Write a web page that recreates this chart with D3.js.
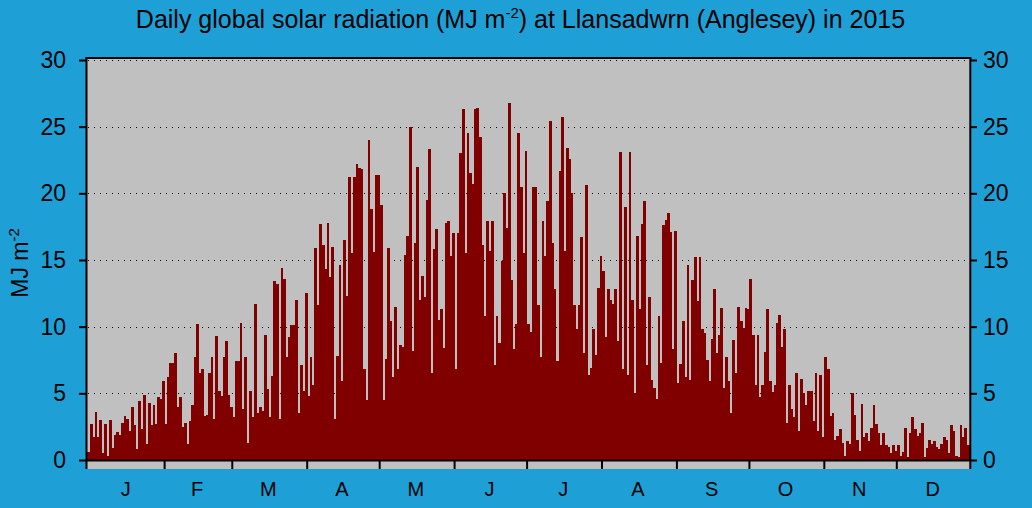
<!DOCTYPE html>
<html>
<head>
<meta charset="utf-8">
<script src="https://cdn.jsdelivr.net/npm/d3@7"></script>
<style>
  html, body { margin: 0; padding: 0; background: #1ea0d7; }
  svg { display: block; font-family: "Liberation Sans", Arial, sans-serif; }
</style>
</head>
<body>
<div id="plot"></div>
<script>
// daily global solar radiation, MJ m-2
const jan = [0.6,2.7,1.7,3.6,1.7,3.0,0.5,2.7,0.3,3.0, 0.9,1.9,2.1,1.9,2.8,3.3,3.1,2.2,4.0,2.6, 0.8,4.4,2.3,4.9,1.2,4.3,2.6,4.1,2.7,4.7, 4.6];
const feb = [5.9,2.7,6.2,7.3,7.3,8.0,4.0,4.7,2.5,2.8, 1.2,2.9,4.1,7.7,10.2,6.5,6.8,3.3,3.4,6.5, 7.7,3.1,9.3,5.2,4.8,7.7,8.9,4.9];
const mar = [4.0,3.2,7.4,7.4,10.3,3.8,7.7,1.3,5.2,3.2, 11.7,3.5,4.0,3.7,9.4,5.3,3.2,6.3,13.4,13.2, 3.1,14.4,13.6,7.7,9.2,10.1,10.1,12.0,3.5,7.1, 5.2];
const apr = [12.5,4.8,7.7,5.6,15.9,11.6,17.7,16.1,14.3,17.8, 13.7,16.0,3.1,7.8,14.6,5.9,16.5,12.3,21.2,15.5, 21.2,22.2,21.9,21.8,6.8,4.5,24.0,18.8,15.6,21.4];
const may = [21.4,19.1,4.5,7.6,15.9,10.4,6.2,11.5,6.8,8.6, 8.5,15.4,16.8,25.0,8.2,16.3,22.0,12.0,13.8,12.2, 19.5,23.3,6.5,15.8,17.3,10.5,11.3,8.4,17.8,17.9, 15.3];
const jun = [17.0,6.8,17.0,23.0,26.3,15.5,24.5,21.5,20.7,26.3, 26.4,24.2,16.1,10.8,17.9,15.7,17.9,7.1,10.8,8.8, 14.9,20.0,17.4,26.8,13.5,8.3,10.2,24.5,20.5,15.5];
const jul = [23.2,10.2,9.6,20.5,20.5,11.6,7.7,17.9,15.3,19.4, 25.4,16.3,12.8,7.4,21.7,25.7,15.7,23.4,22.6,20.0, 11.6,9.8,11.6,16.7,8.0,20.6,6.4,6.9,9.8,7.9, 12.9];
const aug = [15.3,14.2,9.2,12.8,12.0,11.7,12.8,8.9,23.1,6.8, 19.0,6.4,23.1,12.0,5.0,16.8,11.3,17.7,19.4,7.1, 12.2,6.0,5.4,4.6,10.8,7.3,17.6,18.0,18.5,17.1, 8.3];
const sep = [17.2,5.8,7.2,10.4,6.2,14.6,6.0,13.5,15.2,11.9, 15.2,9.8,9.5,7.5,5.9,9.1,12.8,8.0,9.4,11.4, 5.4,7.7,5.9,3.5,9.0,6.5,11.5,10.4,9.9,11.4];
const oct = [11.3,13.6,9.4,5.6,9.4,4.7,5.6,8.1,11.3,5.9, 5.1,5.6,10.3,10.9,8.5,9.8,2.8,5.6,3.8,3.2, 6.5,2.2,6.1,5.0,4.1,5.2,5.2,2.9,6.5,2.2, 6.4];
const nov = [1.7,7.7,6.8,3.3,3.5,1.5,1.8,2.3,1.3,0.3, 1.4,1.2,5.0,3.4,1.5,0.7,4.2,1.7,2.0,1.4, 2.4,4.1,2.7,2.0,1.1,2.0,1.1,1.0,0.5,1.1];
const dec = [0.7,1.1,0.3,0.6,2.4,0.2,2.0,3.2,2.3,1.8, 2.0,2.8,0.2,0.9,1.5,1.2,1.4,1.0,0.8,1.2, 1.7,1.5,0.5,2.6,2.2,0.3,0.2,2.6,1.7,2.4, 1.1];

const monthLabels = ["J","F","M","A","M","J","J","A","S","O","N","D"];
const yTicks = [0, 5, 10, 15, 20, 25, 30];

const months = [jan, feb, mar, apr, may, jun, jul, aug, sep, oct, nov, dec];
const daily = [].concat(...months);

// month start day index
const monthStart = [];
months.reduce((acc, m) => { monthStart.push(acc); return acc + m.length; }, 0);

const W = 1032, H = 508;
const plot = { left: 87.3, right: 969.3, top: 58, bottom: 469 };

const svg = d3.select("#plot")
  .append("svg")
    .attr("width", W)
    .attr("height", H);

svg.append("rect")
  .attr("width", W).attr("height", H)
  .attr("fill", "#1ea0d7");

const x = d3.scaleLinear()
  .domain([0, daily.length])
  .range([plot.left, plot.right]);

const y = d3.scaleLinear()
  .domain([0, 30])
  .range([460, 60]);

// plot background
svg.append("rect")
  .attr("x", 86.5)
  .attr("y", plot.top)
  .attr("width", 970.3 - 86.5)
  .attr("height", plot.bottom - plot.top)
  .attr("fill", "#c0c0c0");

// dotted gridlines
svg.append("g")
  .selectAll("line")
  .data(yTicks.filter(d => d > 0))
  .join("line")
    .attr("x1", 88).attr("x2", 969)
    .attr("y1", d => Math.round(y(d)) + 0.5)
    .attr("y2", d => Math.round(y(d)) + 0.5)
    .attr("stroke", "#000")
    .attr("stroke-width", 1)
    .attr("stroke-dasharray", "1,5");

// bars
svg.append("g")
  .attr("shape-rendering", "crispEdges")
  .selectAll("rect")
  .data(daily)
  .join("rect")
    .attr("x", (d, i) => x(i))
    .attr("width", (d, i) => x(i + 1) - x(i) + 0.4)
    .attr("y", d => y(d))
    .attr("height", d => y(0) - y(d))
    .attr("fill", "#800000");

// frame: left, top, right (no bottom border)
const frame = svg.append("g").attr("stroke", "#000").attr("stroke-width", 2);
frame.append("line").attr("x1", 86.5).attr("x2", 86.5).attr("y1", 57).attr("y2", plot.bottom);
frame.append("line").attr("x1", 970.3).attr("x2", 970.3).attr("y1", 57).attr("y2", plot.bottom);
frame.append("line").attr("x1", 85.5).attr("x2", 971.3).attr("y1", 58).attr("y2", 58);
// zero line
frame.append("line").attr("x1", 85.5).attr("x2", 971.3).attr("y1", y(0) + 0.5).attr("y2", y(0) + 0.5);

// month ticks
frame.append("g")
  .selectAll("line")
  .data(monthStart.slice(1))
  .join("line")
    .attr("x1", d => x(d + 1)).attr("x2", d => x(d + 1))
    .attr("y1", y(0)).attr("y2", plot.bottom);

// month labels
svg.append("g")
  .selectAll("text")
  .data(monthLabels)
  .join("text")
    .attr("x", (d, i) => x(monthStart[i] + months[i].length / 2) + 1)
    .attr("y", 496)
    .attr("text-anchor", "middle")
    .attr("font-size", 20)
    .attr("fill", "#000")
    .text(d => d);

// y axes
const leftAxis = svg.append("g")
  .attr("transform", "translate(87,0)")
  .call(d3.axisLeft(y).tickValues(yTicks).tickSize(8).tickPadding(13));
const rightAxis = svg.append("g")
  .attr("transform", "translate(970,0)")
  .call(d3.axisRight(y).tickValues(yTicks).tickSize(7).tickPadding(6));

[leftAxis, rightAxis].forEach(g => {
  g.select(".domain").remove();
  g.selectAll(".tick line").attr("stroke", "#000").attr("stroke-width", 2);
  g.selectAll(".tick text")
    .attr("font-size", 23)
    .attr("font-family", "Liberation Sans, Arial, sans-serif")
    .attr("fill", "#000");
});

// title
const title = svg.append("text")
  .attr("x", 520.5)
  .attr("y", 28)
  .attr("text-anchor", "middle")
  .attr("font-size", 25)
  .attr("fill", "#000");
title.append("tspan").text("Daily global solar radiation (MJ m");
title.append("tspan").attr("font-size", 15).attr("dy", -10).text("-2");
title.append("tspan").attr("dy", 10).text(") at Llansadwrn (Anglesey) in 2015");

// y label
const ylab = svg.append("text")
  .attr("transform", "translate(28,263) rotate(-90)")
  .attr("text-anchor", "middle")
  .attr("font-size", 23)
  .attr("fill", "#000");
ylab.append("tspan").text("MJ m");
ylab.append("tspan").attr("font-size", 15).attr("dy", -9).text("-2");
</script>
</body>
</html>
